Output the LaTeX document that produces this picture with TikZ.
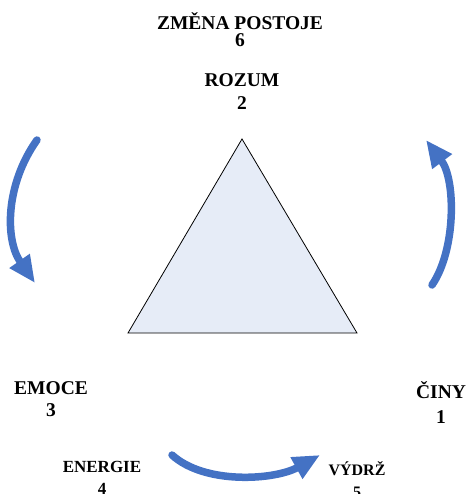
\documentclass[tikz,border=0pt]{standalone}
\usepackage{fontspec}
\setmainfont{Liberation Serif}
\usepackage{xcolor}
\usetikzlibrary{arrows.meta}

\definecolor{arrowblue}{HTML}{4472C4}
\definecolor{trifill}{HTML}{E6ECF7}

\begin{document}
\begin{tikzpicture}[
    x=1pt, y=-1pt,
    lbl/.style    = {align=center, inner sep=0pt, anchor=base,
                     font=\fontsize{19.5}{#1}\selectfont\bfseries},
    lbl/.default  = 22,
    lblsm/.style  = {align=center, inner sep=0pt, anchor=base,
                     font=\fontsize{#1}{22}\selectfont\bfseries},
    tri/.style    = {draw=black, fill=trifill, line width=0.8pt, line join=miter},
    cycarr/.style = {draw=arrowblue, line width=7.5pt, line cap=round,
                     -{Triangle[length=27pt, width=23pt]}},
]
\useasboundingbox (0,0) rectangle (469,494);

%============================ TRIANGLE ==============================
\coordinate (apex)  at (242,139);
\coordinate (bleft) at (128,333);
\coordinate (brght) at (357,333);
\draw[tri] (apex) -- (brght) -- (bleft) -- cycle;

%============================ LABELS ================================
% anchor=base sits on the number line
\node[lbl=17] (postoj) at (240,46.7) {ZMĚNA POSTOJE\\6};
\node[lbl=23] (rozum)  at (242,110)  {ROZUM\\2};
\node[lbl=22] (emoce)  at (51,416.7) {EMOCE\\3};
\node[lbl=25] (cin)    at (441,423)  {ČINY\\1};
\node[lblsm=17] (energ) at (102,494) {ENERGIE\\4};
\node[lblsm=16] (vydrz) at (357,497) {VÝDRŽ\\5};

%============================ ARROWS ================================
\coordinate (l0) at (37,140);  \coordinate (l1) at (35,283);
\coordinate (r0) at (432,285); \coordinate (r1) at (426,140);
\coordinate (b0) at (172,455); \coordinate (b1) at (320,455);

\draw[cycarr] (l0) .. controls (5,185) and (5,240) .. (l1);
\draw[cycarr] (r0) .. controls (456,250) and (456,180) .. (r1);
\draw[cycarr] (b0) .. controls (205,485) and (275,480) .. (b1);

\end{tikzpicture}
\end{document}
